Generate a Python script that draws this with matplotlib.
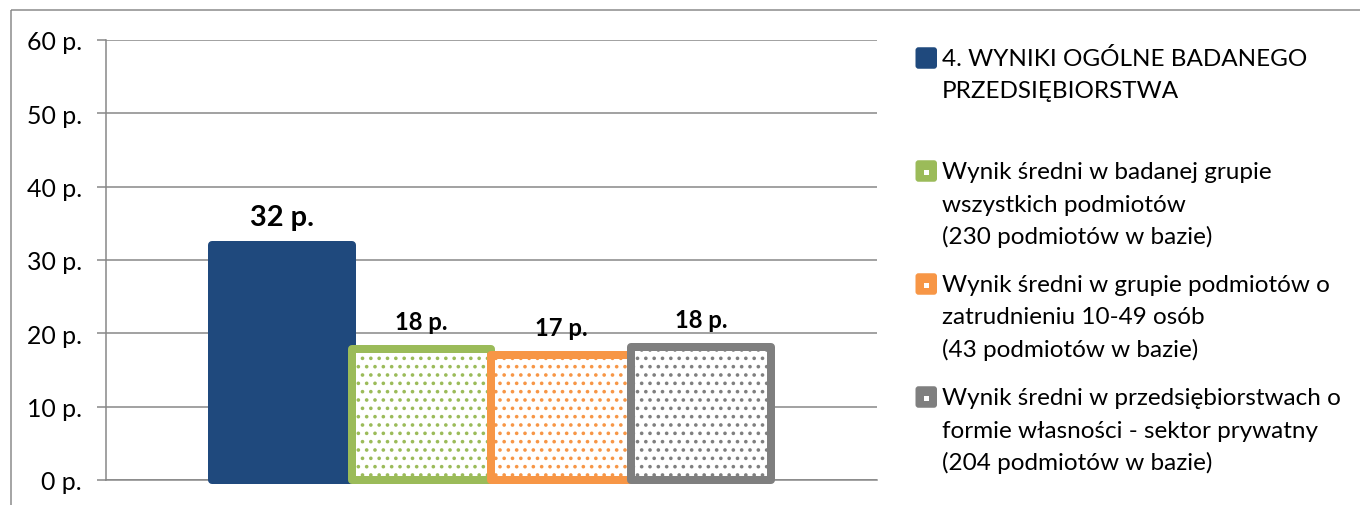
import matplotlib
matplotlib.use("Agg")
import matplotlib.pyplot as plt
from matplotlib.patches import FancyBboxPatch, Rectangle
from matplotlib.transforms import Affine2D
import numpy as np

# ---------------- data ----------------
series_labels = [
    ["4. WYNIKI OGÓLNE BADANEGO", "PRZEDSIĘBIORSTWA"],
    ["Wynik średni w badanej grupie", "wszystkich podmiotów", "(230 podmiotów w bazie)"],
    ["Wynik średni w grupie podmiotów o", "zatrudnieniu 10-49 osób", "(43 podmiotów w bazie)"],
    ["Wynik średni w przedsiębiorstwach o", "formie własności - sektor prywatny", "(204 podmiotów w bazie)"],
]
values = [32.0, 17.9, 17.1, 18.1]
value_labels = ["32 p.", "18 p.", "17 p.", "18 p."]
colors = ["#1F497D", "#9BBB59", "#F79646", "#7F7F7F"]
hatched = [False, True, True, True]
y_ticks = [0, 10, 20, 30, 40, 50, 60]
y_tick_labels = [f"{v} p." for v in y_ticks]

# ---------------- figure ----------------
W, H, DPI = 1360, 506, 100
plt.rcParams['font.family'] = ['Lato', 'DejaVu Sans']
plt.rcParams['hatch.linewidth'] = 1.4

fig = plt.figure(figsize=(W / DPI, H / DPI), dpi=DPI)
fig.patch.set_facecolor('white')
px = Affine2D().scale(1 / DPI, -1 / DPI).translate(0, H / DPI) + fig.dpi_scale_trans
renderer = fig.canvas.get_renderer()


def fit(text, target, weight='normal', base=20.0):
    t = fig.text(0, 0, text, fontsize=base, fontweight=weight)
    w = t.get_window_extent(renderer).width
    t.remove()
    return base * target / w


legend_fs = fit("Wynik średni w przedsiębiorstwach o", 400)
tick_fs = fit("60 p.", 55)
big_fs = fit("32 p.", 64, 'bold')
small_fs = fit("18 p.", 53, 'bold')

grid_c = '#878787'
txt_c = '#000000'

# outer border
fig.add_artist(Rectangle((10.5, 10.5), W, H, transform=px, fill=False,
                         edgecolor='#8C8C8C', lw=1.1))

ax = fig.add_axes([106 / W, (H - 481) / H, (877 - 106) / W, (481 - 41) / H])
ax.set_xlim(-0.5, 0.5)
ax.set_ylim(0, 60)
ax.set_axisbelow(True)

bw = 139.9 / 771
offsets = (np.arange(len(values)) - (len(values) - 1) / 2) * bw
edge_lw = 8 * 72 / DPI

for i, (x, v, c, h) in enumerate(zip(offsets, values, colors, hatched)):
    z = 3 + i * 0.1
    if h:
        ax.bar(x, v, width=bw, facecolor='white', edgecolor=c, hatch='..',
               linewidth=0, zorder=z)
        ax.bar(x, v, width=bw, fill=False, edgecolor=c, linewidth=edge_lw,
               joinstyle='round', clip_on=False, zorder=z + 0.05)
    else:
        ax.bar(x, v, width=bw, color=c, edgecolor=c, linewidth=edge_lw,
               joinstyle='round', clip_on=False, zorder=z)
    ax.annotate(value_labels[i], xy=(x, v), xytext=(0, 20 * 72 / DPI),
                textcoords='offset points', ha='center', va='baseline',
                fontweight='bold', color=txt_c,
                fontsize=big_fs if i == 0 else small_fs, zorder=10)

ax.set_xticks([])
ax.set_yticks(y_ticks, labels=y_tick_labels)
ax.tick_params(axis='y', length=9 * 72 / DPI, width=1.1, color=grid_c,
               pad=15 * 72 / DPI, labelsize=tick_fs, labelcolor=txt_c)
ax.yaxis.grid(True, color=grid_c, linewidth=1.1)
for s in ['top', 'right']:
    ax.spines[s].set_visible(False)
for s in ['left', 'bottom']:
    ax.spines[s].set_color(grid_c)
    ax.spines[s].set_linewidth(1.1)

# ---------------- legend ----------------
leg_x_marker = 915.5
msz = 21.5
text_x = 942
first_base = 66
entry_pitch = 113
line_pitch = 32.5
for i, lines in enumerate(series_labels):
    base = first_base + i * entry_pitch
    cy = base - 7
    fig.add_artist(FancyBboxPatch((leg_x_marker, cy - msz / 2), msz, msz,
                                  boxstyle="round,pad=0,rounding_size=3",
                                  transform=px, facecolor=colors[i],
                                  edgecolor='none'))
    if hatched[i]:
        fig.add_artist(Rectangle((leg_x_marker + msz / 2 - 2, cy - 1.5), 5, 5,
                                 transform=px, facecolor='white',
                                 edgecolor='none'))
    for j, line in enumerate(lines):
        fig.text(text_x, base + j * line_pitch, line, transform=px,
                 ha='left', va='baseline', fontsize=legend_fs, color=txt_c)

fig.savefig("out.png", dpi=DPI)
